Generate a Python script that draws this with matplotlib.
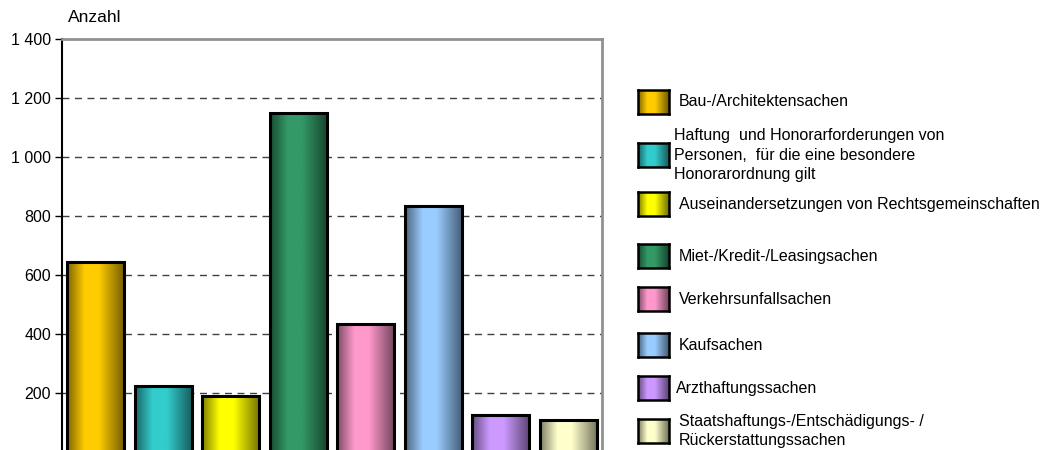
import numpy as np
import matplotlib
matplotlib.use("Agg")
import matplotlib.pyplot as plt
from matplotlib.colors import to_rgb

plt.rcParams['font.family'] = ['Liberation Sans', 'DejaVu Sans']

categories = [
    "Bau-/Architektensachen",
    "Haftung  und Honorarforderungen von\nPersonen,  für die eine besondere\nHonorarordnung gilt",
    "Auseinandersetzungen von Rechtsgemeinschaften",
    "Miet-/Kredit-/Leasingsachen",
    "Verkehrsunfallsachen",
    "Kaufsachen",
    "Arzthaftungssachen",
    "Staatshaftungs-/Entschädigungs- /\nRückerstattungssachen",
]
values = [645, 225, 190, 1150, 435, 835, 125, 110]
colors = ["#FFCC00", "#33CCCC", "#FFFF00", "#339966",
          "#FF99CC", "#99CCFF", "#CC99FF", "#FFFFCC"]
yticks = [200, 400, 600, 800, 1000, 1200, 1400]
ytick_labels = ["200", "400", "600", "800", "1 000", "1 200", "1 400"]
legend_y_px = [102, 155, 204, 256, 299, 345, 388, 431]
legend_text_x = [679, 674, 679, 679, 679, 679, 676, 679]


def gradient(color, n=64):
    t = np.linspace(0, 1, n)
    f = np.interp(t, [0, 0.3, 0.55, 1.0], [0.5, 1.0, 1.0, 0.45])
    c = np.array(to_rgb(color))
    img = c[None, :] * f[:, None]
    return img[None, :, :]


W, H = 1050, 450
fig = plt.figure(figsize=(W / 100, H / 100), dpi=100)
ax = fig.add_axes([62 / W, (H - 452) / H, (602 - 62) / W, (452 - 39) / H])

x = np.arange(len(values))
bars = ax.bar(x, values, width=0.85, facecolor='none', edgecolor='black',
              linewidth=2.2, zorder=3)
for b, c in zip(bars, colors):
    x0, y0 = b.get_x(), b.get_y()
    im = ax.imshow(gradient(c), extent=[x0, x0 + b.get_width(), y0, y0 + b.get_height()],
                   aspect='auto', zorder=2, interpolation='bilinear')
    im.set_clip_path(b)
ax.set_xlim(-0.5, 7.5)
ax.set_ylim(0, 1400)

ax.set_yticks(yticks)
ax.set_yticklabels(ytick_labels, fontsize=11.5)
ax.set_xticks([])
ax.tick_params(axis='y', direction='out', length=5, width=1, pad=3)
for yv in yticks[:-1]:
    ax.axhline(yv, color='#404040', linewidth=1, linestyle=(0, (5, 4)), zorder=1)

ax.spines['left'].set_color('black')
ax.spines['left'].set_linewidth(1.5)
ax.spines['top'].set_color('#909090')
ax.spines['top'].set_linewidth(2)
ax.spines['right'].set_color('#909090')
ax.spines['right'].set_linewidth(2)
ax.spines['bottom'].set_visible(False)

fig.text(68 / W, 1 - 17 / H, "Anzahl", fontsize=12.5, va='center', ha='left')

# Legend
for lab, c, ypx, tx in zip(categories, colors, legend_y_px, legend_text_x):
    pw, ph = 31, 24
    x0 = 638 / W
    y0 = 1 - (ypx + ph / 2) / H
    lax = fig.add_axes([x0, y0, pw / W, ph / H])
    lax.imshow(gradient(c), extent=[0, 1, 0, 1], aspect='auto', interpolation='bilinear')
    lax.set_xticks([]); lax.set_yticks([])
    for s in lax.spines.values():
        s.set_linewidth(1.8)
        s.set_color('black')
    fig.text(tx / W, 1 - ypx / H, lab, fontsize=11.5, va='center', ha='left',
             linespacing=1.4)

fig.savefig("out.png", dpi=100)
